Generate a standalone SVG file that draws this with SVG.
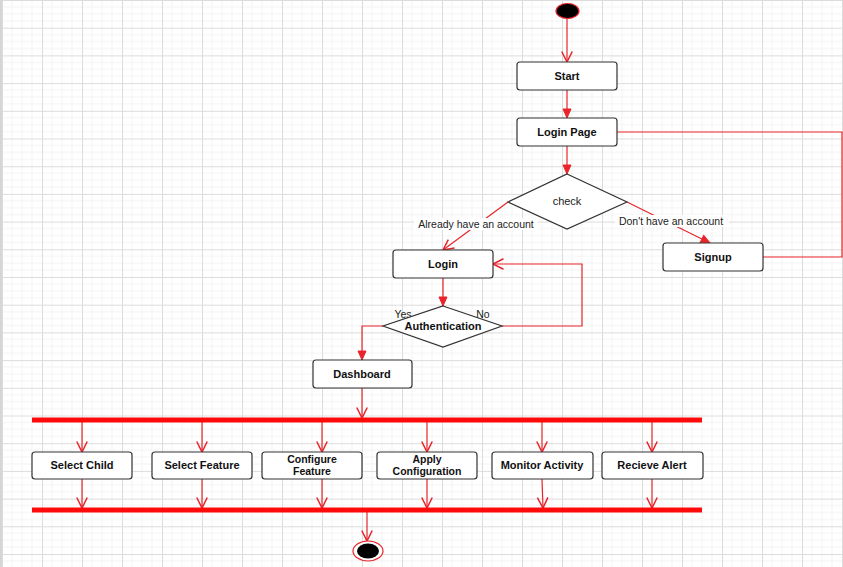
<svg xmlns="http://www.w3.org/2000/svg" width="843" height="567" viewBox="0 0 843 567">
<defs>
<pattern id="grid" patternUnits="userSpaceOnUse" x="2" y="0" width="40" height="27.7">
<rect width="40" height="27.7" fill="#ffffff"/>
<path d="M10,0V27.7M20,0V27.7M30,0V27.7M0,6.925H40M0,13.85H40M0,20.775H40" stroke="#f4f4f4" stroke-width="1" fill="none"/>
<path d="M0.5,0V27.7M0,0.5H40" stroke="#dcdcdc" stroke-width="1" fill="none"/>
</pattern>
<marker id="open" markerUnits="userSpaceOnUse" markerWidth="14" markerHeight="14" refX="10" refY="5" orient="auto" viewBox="0 0 12 10">
<path d="M1,0.5 L10,5 L1,9.5" fill="none" stroke="#e8252b" stroke-width="1.3"/>
</marker>
<marker id="fill" markerUnits="userSpaceOnUse" markerWidth="12" markerHeight="12" refX="10" refY="5" orient="auto" viewBox="0 0 12 10">
<path d="M1,1 L10,5 L1,9 Z" fill="#e8252b" stroke="#e8252b" stroke-width="1"/>
</marker>
</defs>
<style>
.box{fill:#ffffff;stroke:#333333;stroke-width:1.2}
.dia{fill:#ffffff;stroke:#333333;stroke-width:1.2}
.t{font-family:"Liberation Sans",Arial,sans-serif;font-size:11px;font-weight:bold;fill:#111111;text-anchor:middle}
.t2{font-family:"Liberation Sans",Arial,sans-serif;font-size:10.5px;font-weight:bold;fill:#111111;text-anchor:middle}
.n{font-family:"Liberation Sans",Arial,sans-serif;font-size:10.5px;fill:#222222;text-anchor:middle}
.e{fill:none;stroke:#e8252b;stroke-width:1.2}
.bar{fill:#ff0a0a}
</style>
<rect width="843" height="567" fill="url(#grid)"/>
<rect x="0" y="0" width="2" height="567" fill="#d6d6d6"/>

<g id="connectors">
<line class="e" x1="567" y1="19" x2="567" y2="62" marker-end="url(#open)"/>
<line class="e" x1="567" y1="90" x2="567" y2="118" marker-end="url(#fill)"/>
<line class="e" x1="567" y1="146" x2="567" y2="174" marker-end="url(#fill)"/>
<polyline class="e" points="617,132 842,132 842,257 763,257"/>
<line class="e" x1="508" y1="202" x2="443" y2="250" marker-end="url(#open)"/>
<line class="e" x1="627" y1="202" x2="710" y2="243" marker-end="url(#fill)"/>
<line class="e" x1="443" y1="278" x2="443" y2="306" marker-end="url(#fill)"/>
<polyline class="e" points="383,326 362,326 362,360" marker-end="url(#fill)"/>
<polyline class="e" points="502,326 582,326 582,264 493,264" marker-end="url(#open)"/>
<line class="e" x1="362" y1="388" x2="362" y2="418" marker-end="url(#open)"/>
<line class="e" x1="82" y1="422" x2="82" y2="452" marker-end="url(#open)"/>
<line class="e" x1="202" y1="422" x2="202" y2="452" marker-end="url(#open)"/>
<line class="e" x1="322" y1="422" x2="322" y2="452" marker-end="url(#open)"/>
<line class="e" x1="427" y1="422" x2="427" y2="452" marker-end="url(#open)"/>
<line class="e" x1="542" y1="422" x2="542" y2="452" marker-end="url(#open)"/>
<line class="e" x1="652" y1="422" x2="652" y2="452" marker-end="url(#open)"/>
<line class="e" x1="82" y1="479" x2="82" y2="508" marker-end="url(#open)"/>
<line class="e" x1="202" y1="479" x2="202" y2="508" marker-end="url(#open)"/>
<line class="e" x1="322" y1="479" x2="322" y2="508" marker-end="url(#open)"/>
<line class="e" x1="427" y1="479" x2="427" y2="508" marker-end="url(#open)"/>
<line class="e" x1="542" y1="479" x2="543" y2="508" marker-end="url(#open)"/>
<line class="e" x1="652" y1="479" x2="652" y2="508" marker-end="url(#open)"/>
<line class="e" x1="367" y1="512" x2="367" y2="541" marker-end="url(#open)"/>
<rect x="414" y="218" width="124" height="12" fill="#ffffff"/>
<text class="n" x="476" y="228">Already have an account</text>
<rect x="615" y="215" width="114" height="12" fill="#ffffff"/>
<text class="n" x="671" y="225">Don't have an account</text>
<text class="n" x="403" y="318">Yes</text>
<text class="n" x="483" y="318">No</text>
</g>

<g id="initial"><ellipse cx="567.5" cy="11" rx="11.5" ry="7.5" fill="#000000" stroke="#e8252b" stroke-width="1.2"/></g>
<g id="start"><rect class="box" x="517" y="62" width="100" height="28" rx="3"/><text class="t" x="567" y="80">Start</text></g>
<g id="loginpage"><rect class="box" x="517" y="118" width="100" height="28" rx="3"/><text class="t" x="567" y="136">Login Page</text></g>
<g id="check"><polygon class="dia" points="567,174 627,202 567,229 508,202"/><text class="n" x="567" y="205" style="font-size:11px">check</text></g>
<g id="signup"><rect class="box" x="663" y="243" width="100" height="28" rx="3"/><text class="t" x="713" y="261">Signup</text></g>
<g id="login"><rect class="box" x="393" y="250" width="100" height="28" rx="3"/><text class="t" x="443" y="268">Login</text></g>
<g id="authentication"><polygon class="dia" points="443,306 502,326 443,347 383,326"/><text class="t" x="443" y="330">Authentication</text></g>
<g id="dashboard"><rect class="box" x="313" y="360" width="99" height="28" rx="3"/><text class="t" x="362" y="378">Dashboard</text></g>
<g id="fork"><rect class="bar" x="32" y="417.5" width="670" height="5"/></g>
<g id="join"><rect class="bar" x="32" y="507.5" width="670" height="5"/></g>
<g id="selectchild"><rect class="box" x="32" y="452" width="100" height="27" rx="3"/><text class="t" x="82" y="469">Select Child</text></g>
<g id="selectfeature"><rect class="box" x="152" y="452" width="100" height="27" rx="3"/><text class="t" x="202" y="469">Select Feature</text></g>
<g id="configurefeature"><rect class="box" x="262" y="452" width="100" height="27" rx="3"/><text class="t2" x="312" y="463">Configure</text><text class="t2" x="312" y="475">Feature</text></g>
<g id="applyconfiguration"><rect class="box" x="377" y="452" width="100" height="27" rx="3"/><text class="t2" x="427" y="463">Apply</text><text class="t2" x="427" y="475">Configuration</text></g>
<g id="monitoractivity"><rect class="box" x="492" y="452" width="101" height="27" rx="3"/><text class="t" x="542" y="469">Monitor Activity</text></g>
<g id="recievealert"><rect class="box" x="602" y="452" width="101" height="27" rx="3"/><text class="t" x="652" y="469">Recieve Alert</text></g>
<g id="final"><ellipse cx="368" cy="551" rx="15" ry="10" fill="#ffffff" stroke="#e8252b" stroke-width="1.2"/><ellipse cx="368" cy="551" rx="11" ry="7.5" fill="#000000"/></g>
</svg>
